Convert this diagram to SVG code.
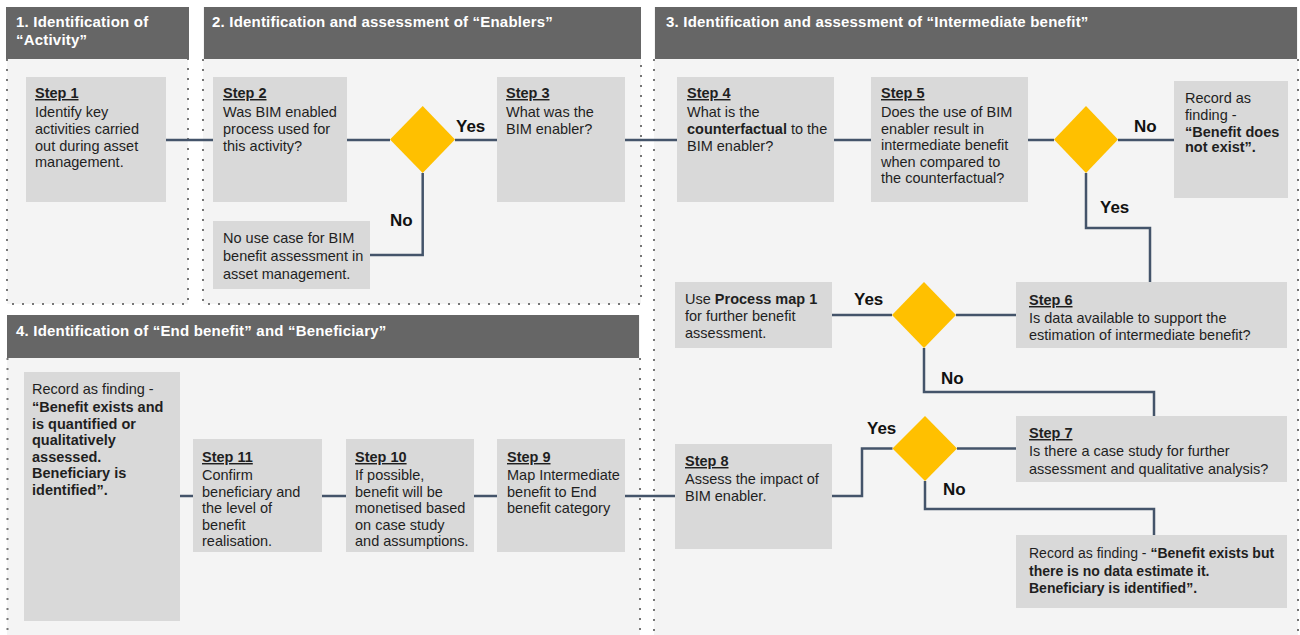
<svg xmlns="http://www.w3.org/2000/svg" width="1300" height="635" viewBox="0 0 1300 635">
<defs>
<style>
.panel{fill:#f4f4f4}
.hdr{fill:#666666}
.dot{stroke:#777;stroke-width:2;stroke-dasharray:2 8;fill:none}
.htxt{font-family:"Liberation Sans",Arial,sans-serif;font-size:15px;font-weight:bold;fill:#ffffff;letter-spacing:0.2px}
.box{fill:#d9d9d9}
.t{font-family:"Liberation Sans",Arial,sans-serif;font-size:14.5px;fill:#1f1f1f}
.b{font-weight:bold}
.step{font-weight:bold;text-decoration:underline}
.dia{fill:#ffc000}
.con{stroke:#44546a;stroke-width:2.5;fill:none}
.lbl{font-family:"Liberation Sans",Arial,sans-serif;font-size:17px;font-weight:bold;fill:#111}
</style>
</defs>
<rect width="1300" height="635" fill="#ffffff"/>

<g id="panels">
  <rect class="panel" x="7" y="7" width="181" height="297"/>
  <rect class="panel" x="203" y="7" width="438" height="297"/>
  <rect class="panel" x="654" y="7" width="644" height="628"/>
  <rect class="panel" x="7" y="315" width="633" height="320"/>
  <path class="dot" d="M7,59 V304 H188 V59"/>
  <path class="dot" d="M203,59 V304 H641 V59"/>
  <path class="dot" d="M654,59 V635 M1298,59 V635"/>
  <path class="dot" d="M7.5,358 V635 M640,358 V635"/>
</g>

<g id="headers">
  <g id="header1">
    <rect class="hdr" x="6" y="7" width="183" height="52"/>
    <text class="htxt" x="16" y="27">1. Identification of</text>
    <text class="htxt" x="16" y="45">“Activity”</text>
  </g>
  <g id="header2">
    <rect class="hdr" x="204" y="7" width="437" height="52"/>
    <text class="htxt" x="212" y="27">2. Identification and assessment of “Enablers”</text>
  </g>
  <g id="header3">
    <rect class="hdr" x="655" y="7" width="642" height="52"/>
    <text class="htxt" x="666" y="27">3. Identification and assessment of “Intermediate benefit”</text>
  </g>
  <g id="header4">
    <rect class="hdr" x="7" y="315" width="632" height="43"/>
    <text class="htxt" x="16" y="336">4. Identification of “End benefit” and “Beneficiary”</text>
  </g>
</g>

<g id="connectors">
  <path class="con" d="M166,140 H213"/>
  <path class="con" d="M347,140 H390"/>
  <path class="con" d="M455,140 H497"/>
  <path class="con" d="M625,140 H677"/>
  <path class="con" d="M834,140 H871"/>
  <path class="con" d="M1028,140 H1054"/>
  <path class="con" d="M1118,140 H1174"/>
  <path class="con" d="M422.7,173 V255 H370"/>
  <path class="con" d="M1086,173 V228 H1150 V282"/>
  <path class="con" d="M1016,315 H956"/>
  <path class="con" d="M892,315 H832"/>
  <path class="con" d="M924,348 V392 H1154 V416"/>
  <path class="con" d="M1016,448.5 H957"/>
  <path class="con" d="M892.5,448.5 H862 V496 H832"/>
  <path class="con" d="M925,481 V509 H1154 V535"/>
  <path class="con" d="M675,496 H625"/>
  <path class="con" d="M497,496 H474"/>
  <path class="con" d="M346,496 H322"/>
  <path class="con" d="M193,496 H180"/>
  <text class="lbl" x="456" y="132">Yes</text>
  <text class="lbl" x="390" y="226">No</text>
  <text class="lbl" x="1134" y="132">No</text>
  <text class="lbl" x="1100" y="213">Yes</text>
  <text class="lbl" x="854" y="305">Yes</text>
  <text class="lbl" x="941" y="384">No</text>
  <text class="lbl" x="867" y="434">Yes</text>
  <text class="lbl" x="943" y="495">No</text>
</g>

<g id="step1">
  <rect class="box" x="26" y="77" width="140" height="125"/>
  <text class="t" x="35"><tspan class="step" y="98">Step 1</tspan><tspan x="35" y="117">Identify key</tspan><tspan x="35" y="134">activities carried</tspan><tspan x="35" y="150.5">out during asset</tspan><tspan x="35" y="167">management.</tspan></text>
</g>
<g id="step2">
  <rect class="box" x="213" y="77" width="134" height="125"/>
  <text class="t" x="223"><tspan class="step" y="98">Step 2</tspan><tspan x="223" y="117">Was BIM enabled</tspan><tspan x="223" y="134">process used for</tspan><tspan x="223" y="150.5">this activity?</tspan></text>
</g>
<g id="decision1">
  <polygon class="dia" points="422.7,106 455,139.5 422.7,173 390,139.5"/>
</g>
<g id="nouse">
  <rect class="box" x="213" y="221" width="157" height="68"/>
  <text class="t" x="223"><tspan y="243">No use case for BIM</tspan><tspan x="223" y="261">benefit assessment in</tspan><tspan x="223" y="279">asset management.</tspan></text>
</g>
<g id="step3">
  <rect class="box" x="497" y="77" width="128" height="125"/>
  <text class="t" x="506"><tspan class="step" y="98">Step 3</tspan><tspan x="506" y="117">What was the</tspan><tspan x="506" y="134">BIM enabler?</tspan></text>
</g>
<g id="step4">
  <rect class="box" x="677" y="77" width="157" height="125"/>
  <text class="t" x="687"><tspan class="step" y="98">Step 4</tspan><tspan x="687" y="117">What is the</tspan><tspan x="687" y="134"><tspan class="b">counterfactual</tspan> to the</tspan><tspan x="687" y="150.5">BIM enabler?</tspan></text>
</g>
<g id="step5">
  <rect class="box" x="871" y="77" width="157" height="125"/>
  <text class="t" x="881"><tspan class="step" y="98">Step 5</tspan><tspan x="881" y="117">Does the use of BIM</tspan><tspan x="881" y="134">enabler result in</tspan><tspan x="881" y="150">intermediate benefit</tspan><tspan x="881" y="167">when compared to</tspan><tspan x="881" y="183">the counterfactual?</tspan></text>
</g>
<g id="decision2">
  <polygon class="dia" points="1086,106 1118,139.5 1086,173 1054,139.5"/>
</g>
<g id="record1">
  <rect class="box" x="1174" y="81" width="114" height="117"/>
  <text class="t" x="1185"><tspan y="103">Record as</tspan><tspan x="1185" y="120">finding -</tspan><tspan class="b" x="1185" y="136.5">“Benefit does</tspan><tspan class="b" x="1185" y="152">not exist”.</tspan></text>
</g>
<g id="step6">
  <rect class="box" x="1016" y="282" width="271" height="66"/>
  <text class="t" x="1029"><tspan class="step" y="305">Step 6</tspan><tspan x="1029" y="323">Is data available to support the</tspan><tspan x="1029" y="340">estimation of intermediate benefit?</tspan></text>
</g>
<g id="decision3">
  <polygon class="dia" points="924,282 956,315 924,348 892,315"/>
</g>
<g id="processmap">
  <rect class="box" x="675" y="282" width="157" height="66"/>
  <text class="t" x="685"><tspan y="304">Use <tspan class="b">Process map 1</tspan></tspan><tspan x="685" y="321">for further benefit</tspan><tspan x="685" y="338">assessment.</tspan></text>
</g>
<g id="step7">
  <rect class="box" x="1016" y="416" width="271" height="66"/>
  <text class="t" x="1029"><tspan class="step" y="438">Step 7</tspan><tspan x="1029" y="456">Is there a case study for further</tspan><tspan x="1029" y="474">assessment and qualitative analysis?</tspan></text>
</g>
<g id="decision4">
  <polygon class="dia" points="925,416 957,448.5 925,481 892.5,448.5"/>
</g>
<g id="record2">
  <rect class="box" x="1016" y="535" width="271" height="73"/>
  <text class="t" x="1029" style="font-size:14px"><tspan y="558">Record as finding - <tspan class="b">“Benefit exists but</tspan></tspan><tspan class="b" x="1029" y="576">there is no data estimate it.</tspan><tspan class="b" x="1029" y="593">Beneficiary is identified”.</tspan></text>
</g>
<g id="step8">
  <rect class="box" x="675" y="444" width="157" height="105"/>
  <text class="t" x="685"><tspan class="step" y="466">Step 8</tspan><tspan x="685" y="484">Assess the impact of</tspan><tspan x="685" y="501">BIM enabler.</tspan></text>
</g>
<g id="step9">
  <rect class="box" x="497" y="439" width="128" height="113"/>
  <text class="t" x="507"><tspan class="step" y="462">Step 9</tspan><tspan x="507" y="480">Map Intermediate</tspan><tspan x="507" y="497">benefit to End</tspan><tspan x="507" y="513">benefit category</tspan></text>
</g>
<g id="step10">
  <rect class="box" x="346" y="439" width="128" height="113"/>
  <text class="t" x="355"><tspan class="step" y="462">Step 10</tspan><tspan x="355" y="479.5">If possible,</tspan><tspan x="355" y="497">benefit will be</tspan><tspan x="355" y="513">monetised based</tspan><tspan x="355" y="530">on case study</tspan><tspan x="355" y="545.5">and assumptions.</tspan></text>
</g>
<g id="step11">
  <rect class="box" x="193" y="439" width="129" height="113"/>
  <text class="t" x="202"><tspan class="step" y="462">Step 11</tspan><tspan x="202" y="479.5">Confirm</tspan><tspan x="202" y="497">beneficiary and</tspan><tspan x="202" y="513">the level of</tspan><tspan x="202" y="530">benefit</tspan><tspan x="202" y="545.5">realisation.</tspan></text>
</g>
<g id="record3">
  <rect class="box" x="24" y="372" width="156" height="249"/>
  <text class="t" x="32"><tspan y="394">Record as finding -</tspan><tspan class="b" x="32" y="412">“Benefit exists and</tspan><tspan class="b" x="32" y="429">is quantified or</tspan><tspan class="b" x="32" y="445">qualitatively</tspan><tspan class="b" x="32" y="462">assessed.</tspan><tspan class="b" x="32" y="478">Beneficiary is</tspan><tspan class="b" x="32" y="495">identified”.</tspan></text>
</g>
</svg>
